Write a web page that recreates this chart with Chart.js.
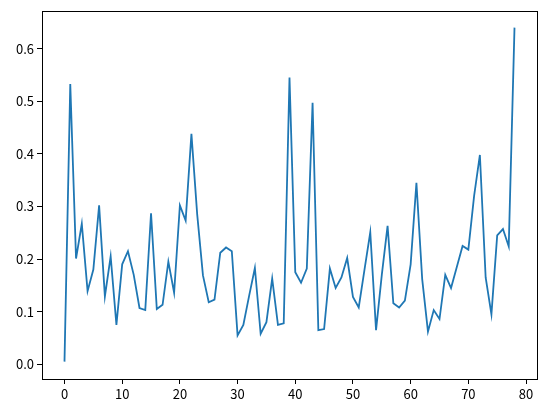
<!DOCTYPE html>
<html>
<head>
<meta charset="utf-8">
<script src="https://cdn.jsdelivr.net/npm/chart.js@4/dist/chart.umd.min.js"></script>
<style>
  html, body { margin: 0; padding: 0; background: #fff; }
  #wrap { width: 546px; height: 412px; }
</style>
</head>
<body>
<div id="wrap"><canvas id="myChart" width="546" height="412"></canvas></div>
<script>
const steps = [
  0, 1, 2, 3, 4, 5, 6, 7, 8, 9,
  10, 11, 12, 13, 14, 15, 16, 17, 18, 19,
  20, 21, 22, 23, 24, 25, 26, 27, 28, 29,
  30, 31, 32, 33, 34, 35, 36, 37, 38, 39,
  40, 41, 42, 43, 44, 45, 46, 47, 48, 49,
  50, 51, 52, 53, 54, 55, 56, 57, 58, 59,
  60, 61, 62, 63, 64, 65, 66, 67, 68, 69,
  70, 71, 72, 73, 74, 75, 76, 77, 78
];
const values = [
  0.005, 0.533, 0.201, 0.267, 0.139, 0.18, 0.302, 0.129, 0.205, 0.075,
  0.19, 0.215, 0.17, 0.107, 0.103, 0.287, 0.105, 0.113, 0.195, 0.136,
  0.302, 0.273, 0.438, 0.285, 0.169, 0.118, 0.123, 0.212, 0.222, 0.215,
  0.055, 0.075, 0.13, 0.183, 0.058, 0.08, 0.163, 0.075, 0.078, 0.545,
  0.175, 0.155, 0.182, 0.497, 0.065, 0.067, 0.182, 0.145, 0.165, 0.202,
  0.128, 0.108, 0.18, 0.251, 0.065, 0.17, 0.263, 0.116, 0.108, 0.121,
  0.19, 0.345, 0.162, 0.062, 0.103, 0.086, 0.17, 0.145, 0.185, 0.225,
  0.218, 0.32, 0.398, 0.165, 0.095, 0.245, 0.257, 0.224, 0.64
];
const xTicks = [0, 10, 20, 30, 40, 50, 60, 70, 80];
const yTicks = [0, 0.1, 0.2, 0.3, 0.4, 0.5, 0.6];

const points = steps.map((x, i) => ({ x: x, y: values[i] }));

// matplotlib style box round the plot area
const frame = {
  id: 'frame',
  afterDraw(chart) {
    const a = chart.chartArea;
    const c = chart.ctx;
    c.save();
    c.strokeStyle = '#000';
    c.lineWidth = 1;
    c.strokeRect(Math.round(a.left) + 0.5, Math.round(a.top) + 0.5,
      Math.round(a.right - a.left), Math.round(a.bottom - a.top));
    c.restore();
  }
};

const tickFont = { family: '"Noto Sans CJK JP", "DejaVu Sans", sans-serif', size: 13 };

const ctx = document.querySelector('#myChart').getContext('2d');
const myChart = new Chart(ctx, {
  type: 'line',
  data: {
    datasets: [{
      data: points,
      borderColor: '#1f77b4',
      borderWidth: 1.8,
      pointRadius: 0,
      tension: 0,
      fill: false
    }]
  },
  options: {
    responsive: false,
    animation: false,
    layout: { padding: { top: 10, right: 9, left: 0, bottom: 0 } },
    plugins: { legend: { display: false }, tooltip: { enabled: false } },
    scales: {
      x: {
        type: 'linear',
        min: -3.9,
        max: 81.9,
        afterBuildTicks: (s) => { s.ticks = xTicks.map(v => ({ value: v })); },
        afterFit: (s) => { s.height = 33; },
        grid: { drawOnChartArea: false, tickLength: 5, color: '#000', tickWidth: 1 },
        border: { display: false },
        ticks: { color: '#000', font: tickFont, padding: 2, maxRotation: 0,
          callback: (v) => String(v) }
      },
      y: {
        type: 'linear',
        min: -0.028,
        max: 0.672,
        afterBuildTicks: (s) => { s.ticks = yTicks.map(v => ({ value: v })); },
        afterFit: (s) => { s.width = 42; },
        grid: { drawOnChartArea: false, tickLength: 5, color: '#000', tickWidth: 1 },
        border: { display: false },
        ticks: { color: '#000', font: tickFont, padding: 3,
          callback: (v) => v.toFixed(1) }
      }
    }
  },
  plugins: [frame]
});
</script>
</body>
</html>
